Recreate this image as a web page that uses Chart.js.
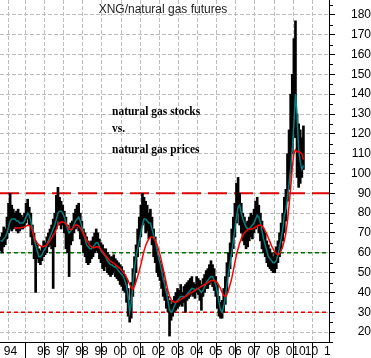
<!DOCTYPE html>
<html><head><meta charset="utf-8">
<script src="https://cdn.jsdelivr.net/npm/chart.js@4.4.0/dist/chart.umd.min.js"></script>
<style>html,body{margin:0;padding:0;background:#fff;}canvas{display:block;}</style>
</head><body>
<canvas id="c" width="371" height="358" style="width:371px;height:358px"></canvas>
<script>
// monthly samples, first one at dataStart (decimal year)
const dataStart = 1994.2;
const hi = [
 68,70,73,72,78,85,90,84,82,80,
 81,82,80,79,78,80,85,87,83,80,74,70,
 66,64,62,61,63,66,65,68,70,72,74,77,
 80,89,93,88,86,84,81,78,74,72,75,76,
 80,82,84,85,80,76,72,70,68,66,65,66,
 68,70,72,70,67,65,64,62,62,60,59,58,
 58,59,57,56,55,54,53,51,49,47,42,36,
 45,52,58,64,72,78,84,90,88,86,84,80,
 82,78,72,68,62,58,56,54,50,46,42,38,
 36,34,36,38,40,42,41,44,40,43,44,45,
 46,47,48,45,44,48,47,46,44,47,49,51,
 52,54,56,54,52,48,44,38,35,36,42,48,
 55,60,65,72,78,85,95,98,90,85,80,78,
 75,76,78,80,79,82,86,88,84,80,76,72,
 70,66,64,62,60,58,60,63,66,70,75,80,
 88,92,110,122,140,150,168,177,130,125,122,118,124
];
const lo = [
 61,60,63,64,67,70,72,71,72,73,
 71,70,71,72,72,73,75,77,74,68,64,57,
 40,57,55,54,56,58,59,60,63,64,62,42,
 63,72,76,74,72,74,70,62,60,48,64,66,
 70,72,73,71,67,64,60,58,55,54,55,57,
 58,60,61,60,57,55,52,51,53,50,49,48,
 49,50,48,47,46,44,43,41,40,35,28,25,
 27,38,44,50,58,63,68,74,75,70,71,67,
 68,64,58,55,50,48,46,42,38,36,32,30,
 18,26,28,30,31,32,33,34,33,35,30,36,
 37,38,39,38,37,40,39,36,31,38,40,42,
 42,44,45,43,41,38,32,28,27,27,30,34,
 40,48,52,58,62,68,75,80,74,70,66,64,
 62,63,66,68,67,70,72,74,70,66,62,60,
 58,55,53,52,51,50,50,52,55,58,62,66,
 70,76,86,92,100,110,120,118,98,93,95,98,102
];
const maShort = [
 66,66,67,68,70,73,76,77,77,77,
 76,76,75,75,75,76,78,80,79,76,72,67,
 64,61,58,58,59,61,62,64,66,68,70,72,
 74,77,80,81,81,80,78,75,72,70,71,72,
 74,76,77,78,76,73,70,67,64,63,62,62,
 63,64,65,65,63,61,60,59,58,56,55,54,
 54,53,53,52,51,50,49,48,46,43,38,30,
 35,44,52,58,62,66,70,74,77,77,76,75,
 75,72,69,66,62,58,55,51,47,44,40,36,
 31,30,31,33,35,36,37,38,38,38,38,39,
 40,41,42,42,41,42,42,41,40,41,43,45,
 46,47,48,48,46,44,40,35,31,30,33,38,
 44,50,55,60,66,72,78,83,84,80,77,75,
 73,72,72,73,74,75,77,79,78,75,71,67,
 64,61,58,57,56,55,55,56,59,63,67,72,
 79,82,88,95,103,112,125,140,130,112,106,102,104
];
const maLong = [
 null,null,null,null,null,null,null,null,null,72.5,
 72.5,72.5,72.5,72.7,72.8,73,73.5,74,73.8,73,71,68,
 66,65,64,63.5,63,63,63.5,64,65,66,67.5,69,
 70,72,74,75,75.5,75.6,75.3,74.5,73.5,72,71.5,72,
 73,74,74,73.5,72.5,71,69.5,68,66.5,65,63.5,63,
 62.5,62.7,63,63,62.5,61.5,60.5,59.5,58.5,57.5,56.5,55.5,
 55.2,54.8,54,53.3,52.6,52,51,50,49,47.5,46,44,
 42.5,41.5,43,45.5,48,51,54,57.5,61,63.5,65.5,67,
 68,68,67.5,66,64.5,62,59,55.5,52,48.5,44.5,41,
 38,36.5,35.5,35,35,35.5,36,36.5,37,37.5,38,38.5,
 39,39.5,40,40.5,41,41.5,42,42.5,43,43.5,44,44.5,
 45,45.5,46,46,46,45.5,45,43.5,42,40,38.5,38,
 39,41,44,47,51,55,59,62,65,67,69,70,
 71,71.5,72,72,72,72.5,73,73.5,74,74,73.5,72.5,
 71,69.5,67.5,65.5,63.5,62,60.5,59.5,59,59.5,61,63,
 66,70,76,84,93,103,110,112,111,111,110.5,110,107
];
const refLevels = [90, 60, 30];
const xTickYears = [1994.26,1995,1996,1997,1998,1999,2000,2001,2002,2003,2004,2005,2006,2007,2008,2009,2010,2011];
const xTickLabels = ['94','','96','97','98','99','00','01','02','03','04','05','06','07','08','010','10','1'];
const yTicks = [20,30,40,50,60,70,80,90,100,110,120,130,140,150,160,170,180];
const yMinorTicks = [15,25,35,45,55,65,75,85,95,105,115,125,135,145,155,165,175,185];
const xMin = 1994.17, xMax = 2011.37, yMin = 15, yMax = 187.5;

const months = hi.map((_, i) => dataStart + i / 12);
const FONT = '"Liberation Sans", Arial, sans-serif';

const refStyles = [
  {color:'#e00000', dash:[19,7], width:2},
  {color:'#006e00', dash:[4,3], width:1.5},
  {color:'#e00000', dash:[4,3], width:1.5}
];

const decor = {
  id: 'decor',
  beforeDraw(chart) {
    const c = chart.ctx;
    c.save(); c.fillStyle = '#fff'; c.fillRect(0, 0, chart.width, chart.height); c.restore();
  },
  afterDraw(chart) {
    const c = chart.ctx, y = chart.scales.y;
    c.save();
    c.strokeStyle = '#000'; c.lineWidth = 1;
    yMinorTicks.forEach(v => {
      const py = Math.round(y.getPixelForValue(v)) + 0.5;
      c.beginPath(); c.moveTo(y.left, py); c.lineTo(y.left + 4, py); c.stroke();
    });
    c.fillStyle = '#222';
    c.font = '12px ' + FONT;
    c.textAlign = 'center'; c.textBaseline = 'middle';
    c.fillText('XNG/natural gas futures', 163, 10);
    c.fillStyle = '#000';
    c.font = 'bold 11.5px "Liberation Serif", "Times New Roman", serif';
    c.textAlign = 'left'; c.textBaseline = 'alphabetic';
    c.fillText('natural gas stocks', 112, 115);
    c.fillText('vs.', 112, 132);
    c.fillText('natural gas prices', 112, 153);
    c.restore();
  }
};

const datasets = [
  {type:'line', data: maLong.map((v,i)=>({x:months[i], y:v})), borderColor:'#ff0000', borderWidth:1.5, pointRadius:0, tension:0},
  {type:'line', data: maShort.map((v,i)=>({x:months[i], y:v})), borderColor:'#008080', borderWidth:1.5, pointRadius:0, tension:0},
  {type:'bar', data: hi.map((h,i)=>({x:months[i], y:[lo[i], h]})), backgroundColor:'#000', borderWidth:0, barThickness:2, grouped:false}
];
refLevels.forEach((lv, k) => {
  datasets.push({type:'line', data:[{x:xMin, y:lv},{x:xMax, y:lv}], borderColor:refStyles[k].color,
    borderDash:refStyles[k].dash, borderWidth:refStyles[k].width, pointRadius:0});
});

new Chart(document.getElementById('c'), {
  type: 'line',
  data: { datasets },
  options: {
    responsive:false, animation:false, devicePixelRatio:1,
    layout:{padding:0},
    plugins:{legend:{display:false}, tooltip:{enabled:false}, title:{display:false}},
    scales:{
      x:{type:'linear', position:'bottom', min:xMin, max:xMax, offset:false,
        afterBuildTicks: s => { s.ticks = xTickYears.map(v => ({value:v})); },
        afterFit: s => { s.height = 16; s.paddingLeft = 0; s.paddingRight = 0; },
        grid:{color:'#bdbdbd', lineWidth:1, tickLength:16,
          tickColor: c => (xTickLabels[c.index] === '' ? 'rgba(0,0,0,0)' : '#000')},
        border:{color:'#000', width:1, dash:[4,2]},
        ticks:{color:'#000', font:{family:FONT, size:12}, align:'start', labelOffset:2, padding:-14,
          maxRotation:0, minRotation:0, autoSkip:false, callback:(v,i)=>xTickLabels[i]}
      },
      y:{type:'linear', position:'right', min:yMin, max:yMax,
        afterBuildTicks: s => { s.ticks = yTicks.map(v => ({value:v})); },
        afterFit: s => { s.width = 42; s.paddingTop = 0; s.paddingBottom = 0; },
        grid:{color:'#bdbdbd', lineWidth:1, tickLength:6, tickColor:'#000'},
        border:{color:'#000', width:1, dash:[4,2]},
        ticks:{color:'#000', font:{family:FONT, size:12}, padding:12, crossAlign:'far', callback:v=>String(v)}
      }
    }
  },
  plugins:[decor]
});
</script>
</body></html>
